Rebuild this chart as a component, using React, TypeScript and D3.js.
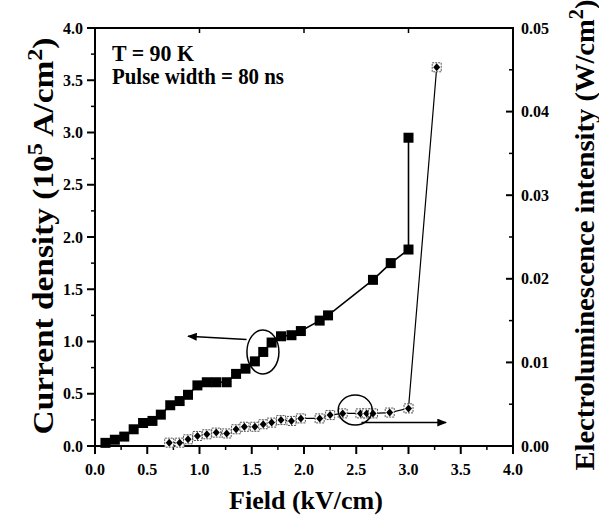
import React from 'react';
import * as d3 from 'd3';

// current density (10^5 A/cm^2) vs field (kV/cm)
const jField = [0.10, 0.19, 0.28, 0.37, 0.46, 0.55, 0.63, 0.72, 0.81, 0.89, 0.98, 1.07, 1.16, 1.26, 1.35, 1.44, 1.53, 1.61, 1.69, 1.78, 1.88, 1.97, 2.15, 2.23, 2.66, 2.83, 3.0, 3.0];
const jValue = [0.03, 0.06, 0.09, 0.16, 0.22, 0.24, 0.30, 0.39, 0.43, 0.49, 0.58, 0.61, 0.61, 0.61, 0.69, 0.74, 0.81, 0.90, 0.99, 1.05, 1.06, 1.10, 1.20, 1.25, 1.59, 1.75, 1.88, 2.95];

// electroluminescence intensity (W/cm^2) vs field
const elField = [0.71, 0.81, 0.89, 0.98, 1.07, 1.16, 1.26, 1.35, 1.43, 1.53, 1.61, 1.69, 1.78, 1.88, 1.97, 2.15, 2.25, 2.37, 2.54, 2.60, 2.66, 2.82, 3.0, 3.27];
const elValue = [0.0004, 0.0004, 0.0008, 0.0012, 0.0014, 0.0016, 0.0015, 0.0020, 0.0023, 0.0023, 0.0026, 0.0028, 0.0031, 0.0030, 0.0033, 0.0033, 0.0037, 0.0039, 0.0039, 0.0039, 0.0039, 0.0040, 0.0045, 0.0453];

const xTicks = [0, 0.5, 1, 1.5, 2, 2.5, 3, 3.5, 4];
const yLeftTicks = [0, 0.5, 1, 1.5, 2, 2.5, 3, 3.5, 4];
const yRightTicks = [0, 0.01, 0.02, 0.03, 0.04, 0.05];
const topTicks = [1, 2, 3];

const font = '"Liberation Serif", "Times New Roman", serif';

export default function App() {
  const left = 95, right = 513, top = 28, bottom = 446;
  const x = d3.scaleLinear().domain([0, 4]).range([left, right]);
  const yL = d3.scaleLinear().domain([0, 4]).range([bottom, top]);
  const yR = d3.scaleLinear().domain([0, 0.05]).range([bottom, top]);

  const jPts = jField.map((f, i) => [x(f), yL(jValue[i])] as [number, number]);
  const elPts = elField.map((f, i) => [x(f), yR(elValue[i])] as [number, number]);
  const line = d3.line();

  const xMinor = d3.range(0.25, 4, 0.5);
  const yLMinor = d3.range(0.25, 4, 0.5);
  const yRMinor = d3.range(0.005, 0.05, 0.01);

  // annotation ellipses, placed in data space
  const e1 = { cx: x(1.607), cy: yL(0.90) };
  const e2 = { cx: x(2.49), cy: yR(0.0043) };

  return (
    <svg width={599} height={520} style={{ position: 'absolute', left: 0, top: 0, background: '#fff' }} fontFamily={font} fontWeight="bold">
      <defs>
        <marker id="ah" viewBox="0 0 12 10" refX="11" refY="5" markerWidth="12" markerHeight="8" orient="auto" markerUnits="userSpaceOnUse">
          <path d="M0,0 L12,5 L0,10 z" fill="#000" />
        </marker>
      </defs>

      {/* frame */}
      <rect x={left} y={top} width={right - left} height={bottom - top} fill="none" stroke="#000" strokeWidth={2} />

      {/* bottom ticks (outward) */}
      {xTicks.map((t) => (
        <g key={`xb${t}`}>
          <line x1={x(t)} x2={x(t)} y1={bottom} y2={bottom + 8} stroke="#000" strokeWidth={2} />
          <text x={x(t)} y={475} textAnchor="middle" fontSize={16}>{t.toFixed(1)}</text>
        </g>
      ))}
      {xMinor.map((t) => (
        <line key={`xm${t}`} x1={x(t)} x2={x(t)} y1={bottom} y2={bottom + 4} stroke="#000" strokeWidth={1.5} />
      ))}
      {/* top ticks (inward) */}
      {topTicks.map((t) => (
        <line key={`xt${t}`} x1={x(t)} x2={x(t)} y1={top} y2={top + 5} stroke="#000" strokeWidth={1.5} />
      ))}

      {/* left axis */}
      {yLeftTicks.map((t) => (
        <g key={`yl${t}`}>
          <line x1={left - 8} x2={left} y1={yL(t)} y2={yL(t)} stroke="#000" strokeWidth={2} />
          <text x={83} y={yL(t) + 5.5} textAnchor="end" fontSize={16}>{t.toFixed(1)}</text>
        </g>
      ))}
      {yLMinor.map((t) => (
        <line key={`ylm${t}`} x1={left - 4} x2={left} y1={yL(t)} y2={yL(t)} stroke="#000" strokeWidth={1.5} />
      ))}

      {/* right axis (ticks inward) */}
      {yRightTicks.map((t) => (
        <g key={`yr${t}`}>
          <line x1={right - 7} x2={right} y1={yR(t)} y2={yR(t)} stroke="#000" strokeWidth={2} />
          <text x={521} y={yR(t) + 5.5} textAnchor="start" fontSize={16}>{t.toFixed(2)}</text>
        </g>
      ))}
      {yRMinor.map((t) => (
        <line key={`yrm${t}`} x1={right - 4} x2={right} y1={yR(t)} y2={yR(t)} stroke="#000" strokeWidth={1.5} />
      ))}

      {/* series lines */}
      <path d={line(jPts) ?? ''} fill="none" stroke="#000" strokeWidth={1.6} />
      <path d={line(elPts) ?? ''} fill="none" stroke="#000" strokeWidth={1.2} />

      {/* current density markers */}
      {jPts.map(([px, py], i) => (
        <rect key={`j${i}`} x={px - 5} y={py - 5} width={10} height={10} fill="#000" />
      ))}
      {/* EL markers: open square with filled diamond */}
      {elPts.map(([px, py], i) => (
        <g key={`e${i}`}>
          <rect x={px - 4.5} y={py - 4.5} width={9} height={9} fill="#fff" stroke="#555" strokeWidth={1} strokeDasharray="2,1" />
          <path d={`M${px},${py - 4}L${px + 3.5},${py}L${px},${py + 4}L${px - 3.5},${py}Z`} fill="#000" />
        </g>
      ))}

      {/* annotations */}
      <ellipse cx={e1.cx} cy={e1.cy} rx={16} ry={22} fill="none" stroke="#000" strokeWidth={1.5} />
      <line x1={x(1.45)} y1={yL(1.02)} x2={x(0.89)} y2={yL(1.05)} stroke="#000" strokeWidth={1.5} markerEnd="url(#ah)" />
      <ellipse cx={e2.cx} cy={e2.cy} rx={17} ry={15} fill="none" stroke="#000" strokeWidth={1.5} />
      <line x1={x(2.55)} y1={yR(0.0028)} x2={x(3.36)} y2={yR(0.0028)} stroke="#000" strokeWidth={1.5} markerEnd="url(#ah)" />

      <text x={112} y={61} fontSize={23} textLength={82} lengthAdjust="spacingAndGlyphs">T = 90 K</text>
      <text x={112} y={84} fontSize={23} textLength={172} lengthAdjust="spacingAndGlyphs">Pulse width = 80 ns</text>

      {/* axis titles */}
      <text x={306} y={509} textAnchor="middle" fontSize={26}>Field (kV/cm)</text>
      <text transform="translate(53,236) rotate(-90) scale(1.15,1)" textAnchor="middle" fontSize={29}>
        Current density (10<tspan dy={-11} fontSize={21}>5</tspan>
        <tspan dy={11}> A/cm</tspan><tspan dy={-11} fontSize={21}>2</tspan><tspan dy={11}>)</tspan>
      </text>
      <text transform="translate(594,235) rotate(-90) scale(1.02,1)" textAnchor="middle" fontSize={28}>
        Electroluminescence intensity (W/cm<tspan dy={-11} fontSize={20}>2</tspan><tspan dy={11}>)</tspan>
      </text>
    </svg>
  );
}
